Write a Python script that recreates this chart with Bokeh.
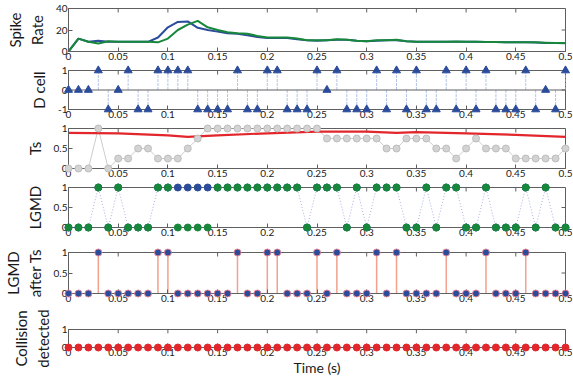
from bokeh.plotting import figure
from bokeh.layouts import column
from bokeh.models import FixedTicker, Span, Range1d
from bokeh.embed import file_html
from bokeh.resources import INLINE

# ---------------- data ----------------
time = [round(0.01 * i, 2) for i in range(51)]
x_ticks = [0, 0.05, 0.1, 0.15, 0.2, 0.25, 0.3, 0.35, 0.4, 0.45, 0.5]
x_tick_labels = ["0", "0.05", "0.1", "0.15", "0.2", "0.25", "0.3", "0.35", "0.4", "0.45", "0.5"]

spike_rate_blue = [0, 12, 9, 10, 9, 9, 9, 9, 9, 13, 22.5, 27.5, 28, 22, 20, 18.5, 17, 16.5, 15, 13.5,
                   12.5, 12.5, 12.5, 11.5, 10.5, 10, 10.5, 11, 11, 10, 9.5, 10, 10.5, 10.5, 9.5, 9,
                   9, 9, 9, 9, 9, 9, 8.8, 8.8, 8.5, 8.5, 8.5, 8.3, 8, 7.8, 7.7]
spike_rate_green = [0, 12, 9, 7.5, 9.5, 9, 9, 9, 9, 8.5, 12, 20, 25, 28.5, 22.5, 20, 18, 17, 16.5, 14.5,
                    13, 13, 13, 12, 10.5, 10.5, 10.5, 11.5, 11, 10, 9.5, 10.5, 10.5, 11, 9.5, 9,
                    9, 9, 9, 9.2, 9, 9, 8.8, 8.8, 8.5, 8.7, 8.5, 8.5, 8.2, 7.8, 7.8]

d_cell = [0, 0, 0, 1, -1, 0, 1, -1, -1, 1, 1, 1, 1, -1, -1, -1, -1, 1, -1, -1,
          1, 1, -1, -1, -1, 1, 0, 1, -1, -1, -1, 1, -1, 1, -1, 1, -1, -1, 1, -1,
          1, -1, 1, -1, -1, -1, 1, -1, 0, -1, 1]

ts_values = [0, 0, 0, 1, 0, 0.25, 0.25, 0.5, 0.5, 0.25, 0.25, 0.25, 0.5, 0.75, 1, 1, 1, 1, 1, 1,
             1, 1, 1, 1, 1, 1, 0.75, 0.75, 0.75, 0.75, 0.75, 0.75, 0.5, 0.5, 0.75, 0.75, 0.75, 0.5, 0.5, 0.25,
             0.5, 0.75, 0.5, 0.5, 0.5, 0.25, 0.25, 0.25, 0.25, 0.25, 0.5]
threshold_time = [0, 0.05, 0.1, 0.12, 0.15, 0.2, 0.25, 0.3, 0.33, 0.35, 0.4, 0.45, 0.5]
threshold_values = [0.89, 0.88, 0.83, 0.79, 0.83, 0.88, 0.92, 0.92, 0.89, 0.91, 0.88, 0.84, 0.79]

lgmd_raw = [0, 0, 0, 1, 0, 1, 0, 0, 0, 1, 1, 1, 1, 1, 1, 1, 1, 1, 1, 1,
            1, 1, 1, 1, 0, 1, 1, 1, 0, 1, 0, 1, 1, 1, 0, 0, 1, 0, 1, 1,
            0, 0, 1, 0, 0, 0, 1, 0, 1, 0, 0]
lgmd = [0, 0, 0, 1, 0, 1, 0, 0, 0, 1, 1, 0, 0, 0, 0, 1, 1, 1, 1, 1,
        1, 1, 1, 1, 0, 1, 1, 1, 0, 1, 0, 1, 1, 1, 0, 0, 1, 0, 1, 1,
        0, 0, 1, 0, 0, 0, 1, 0, 1, 0, 0]
lgmd_after_ts = [0, 0, 0, 1, 0, 0, 0, 0, 0, 1, 1, 0, 0, 0, 0, 0, 0, 1, 0, 0,
                 1, 1, 0, 0, 0, 1, 0, 1, 0, 0, 0, 1, 0, 1, 0, 0, 0, 0, 1, 0,
                 0, 0, 1, 0, 0, 0, 1, 0, 0, 0, 0]
collision = [0, 0, 0, 0, 0, 0, 0, 0, 0, 0, 0, 0, 0, 0, 0, 0, 0, 0, 0, 0,
             0, 0, 0, 0, 0, 0, 0, 0, 0, 0, 0, 0, 0, 0, 0, 0, 0, 0, 0, 0,
             0, 0, 0, 0, 0, 0, 0, 0, 0, 0, 0]

# ---------------- style ----------------
FONT = "Lato"
AX = "#5f5f5f"
TXT = "#1a1a1a"
BLUE = "#2b4b9b"
GREEN = "#17873b"
RED = "#e2262b"

W = 573
LEFT = 60
RIGHT = 8
TICK = 4


def fmt(v):
    return "%g" % v


def make_fig(h, t, b, y0, y1, yticks, ylabel, xlabel=None):
    p = figure(width=W, height=h, x_range=Range1d(0, 0.5), y_range=Range1d(y0, y1),
               output_backend="svg", toolbar_location=None,
               min_border_left=LEFT, min_border_right=RIGHT, min_border_top=t, min_border_bottom=b)
    p.grid.visible = False
    p.outline_line_color = AX
    p.outline_line_width = 1

    xa = p.xaxis[0]
    xa.ticker = FixedTicker(ticks=x_ticks)
    xa.major_label_overrides = {v: l for v, l in zip(x_ticks, x_tick_labels)}
    ya = p.yaxis[0]
    ya.ticker = FixedTicker(ticks=yticks)
    ya.major_label_overrides = {v: fmt(v) for v in yticks}
    for ax in (xa, ya):
        ax.axis_line_color = AX
        ax.major_tick_line_color = AX
        ax.minor_tick_line_color = None
        ax.major_tick_in = TICK
        ax.major_tick_out = 0
        ax.major_label_text_font = FONT
        ax.major_label_text_font_size = "10px"
        ax.major_label_text_color = TXT
        ax.major_label_standoff = 1
    ya.axis_label = ylabel
    ya.axis_label_text_font = FONT
    ya.axis_label_text_font_size = "15px"
    ya.axis_label_text_font_style = "normal"
    ya.axis_label_text_color = TXT
    ya.axis_label_standoff = 7
    if xlabel:
        xa.axis_label = xlabel
        xa.axis_label_text_font = FONT
        xa.axis_label_text_font_size = "14px"
        xa.axis_label_text_font_style = "normal"
        xa.axis_label_text_color = TXT
        xa.axis_label_standoff = 0

    # mirrored inward ticks on the top and right edges of the box
    frame_w = W - LEFT - RIGHT
    frame_h = h - t - b
    dy = TICK * (y1 - y0) / frame_h
    dx = TICK * 0.5 / frame_w
    p.segment(x0=x_ticks, y0=[y1] * len(x_ticks), x1=x_ticks, y1=[y1 - dy] * len(x_ticks),
              line_color=AX, line_width=1)
    p.segment(x0=[0.5] * len(yticks), y0=yticks, x1=[0.5 - dx] * len(yticks), y1=yticks,
              line_color=AX, line_width=1)
    return p


# Panel 1: spike rate
p1 = make_fig(64, 8, 13, 0, 40, [0, 20, 40], "Spike\nRate")
p1.line(time, spike_rate_blue, line_color=BLUE, line_width=2)
p1.line(time, spike_rate_green, line_color=GREEN, line_width=2)

# Panel 2: D cell
p2 = make_fig(58, 6, 13, -1, 1, [-1, 0, 1], "D cell")
p2.add_layout(Span(location=0, dimension="width", line_color=AX, line_width=1))
p2.segment(x0=time, y0=[0] * len(time), x1=time, y1=d_cell,
           line_color="#b3c3e8", line_width=1, line_dash="3 1")
p2.scatter(time, d_cell, marker="triangle", size=8, fill_color=BLUE, line_color=BLUE, level="overlay")

# Panel 3: Ts
p3 = make_fig(59, 6, 13, 0, 1, [0, 0.5, 1], "Ts")
p3.line(time, ts_values, line_color="#cccccc", line_width=1)
p3.line(threshold_time, threshold_values, line_color=RED, line_width=2.2)
p3.scatter(time, ts_values, size=7, fill_color="#d3d3d3", line_color="#bdbdbd", level="overlay")

# Panel 4: LGMD
p4 = make_fig(65, 6, 19, 0, 1, [0, 0.5, 1], "LGMD")
p4.line(time, lgmd_raw, line_color="#a9aee3", line_width=1, line_dash="1 2")
p4.scatter(time, lgmd_raw, size=7, fill_color=BLUE, line_color=BLUE, level="overlay")
p4.scatter(time, lgmd, size=7, fill_color=GREEN, line_color=GREEN, level="overlay")

# Panel 5: LGMD after Ts
p5 = make_fig(61, 6, 14, 0, 1, [0, 0.5, 1], "LGMD\nafter Ts")
p5.segment(x0=time, y0=[0] * len(time), x1=time, y1=lgmd_after_ts,
           line_color="#f3a08c", line_width=1.5)
p5.scatter(time, lgmd_after_ts, size=7, fill_color=BLUE, line_color="#e58595", line_width=1,
           level="overlay")

# Panel 6: Collision detected
p6 = make_fig(71, 22, 30, 0, 1, [0, 1], "Collision\ndetected", xlabel="Time (s)")
p6.scatter(time, collision, size=7, fill_color=RED, line_color=RED, level="overlay")

layout = column(p1, p2, p3, p4, p5, p6, spacing=0)
open("out.html", "w").write(file_html(layout, INLINE))
